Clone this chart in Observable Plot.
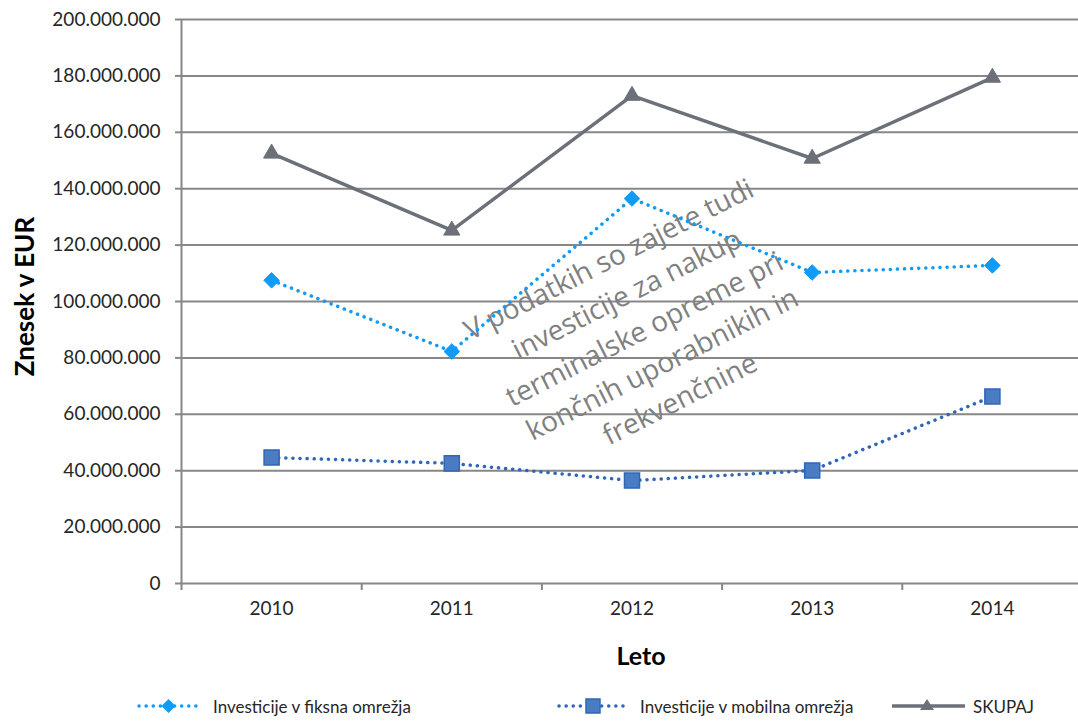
<!DOCTYPE html>
<html><head><meta charset="utf-8">
<script src="https://cdn.jsdelivr.net/npm/d3@7"></script>
<script src="https://cdn.jsdelivr.net/npm/@observablehq/plot@0.6"></script>
<style>
body{margin:0;background:#fff;overflow:hidden;}
#wrap{position:relative;width:1078px;height:722px;}
#legend{position:absolute;left:0;top:690px;width:1078px;height:32px;font-family:Lato,sans-serif;font-size:17px;color:#262626;}
.item{position:absolute;top:0;height:32px;display:flex;align-items:center;white-space:nowrap;}
</style></head><body>
<div id="wrap"><div id="chart"></div><div id="legend"></div></div>
<script>
const years = [2010, 2011, 2012, 2013, 2014];
const fiksna = [107.5e6, 82.3e6, 136.5e6, 110.3e6, 112.8e6];
const mobilna = [44.7e6, 42.6e6, 36.5e6, 40.1e6, 66.3e6];
const skupaj = [152.5e6, 125.2e6, 173.0e6, 150.7e6, 179.4e6];
const seriesNames = ["Investicije v fiksna omrežja", "Investicije v mobilna omrežja", "SKUPAJ"];
const yTicks = [0, 20e6, 40e6, 60e6, 80e6, 100e6, 120e6, 140e6, 160e6, 180e6, 200e6];
const xBounds = [2009.5, 2010.5, 2011.5, 2012.5, 2013.5, 2014.5];
const watermark = ["V podatkih so zajete tudi", "investicije za nakup", "terminalske opreme pri", "končnih uporabnikih in", "frekvenčnine"];

const colFix = "#0f9bf7", colMob = "#2f67b8", colMobFill = "#4a7cc4", colSum = "#6c7079", colGrid = "#878787";
const fmt = d3.formatLocale({thousands: ".", grouping: [3], decimal: ","}).format(",");
const rows = v => years.map((y, i) => ({year: y, value: v[i]}));
const dF = rows(fiksna), dM = rows(mobilna), dS = rows(skupaj);

const plot = Plot.plot({
  width: 1078, height: 690,
  marginLeft: 181, marginRight: 0, marginTop: 19, marginBottom: 107,
  style: {fontFamily: "Lato, sans-serif", fontSize: "19px", color: "#262626", background: "#fff"},
  x: {type: "linear", domain: [2009.5, 2014.5], range: [181, 1082]},
  y: {domain: [0, 200e6]},
  marks: [
    Plot.gridY(yTicks, {stroke: colGrid, strokeOpacity: 1, strokeWidth: 2}),
    Plot.ruleX([2009.5], {stroke: colGrid, strokeWidth: 2}),
    Plot.axisY({ticks: yTicks, tickSize: 6, tickPadding: 15, tickFormat: fmt, stroke: colGrid, strokeWidth: 2, strokeOpacity: 1, label: null, fill: "#262626"}),
    Plot.axisX({ticks: xBounds, tickSize: 7, tickFormat: () => "", stroke: colGrid, strokeWidth: 2, strokeOpacity: 1, label: null}),
    Plot.axisX({ticks: years, tickSize: 0, tickPadding: 18, tickFormat: d => String(d), label: null, fill: "#262626"}),
    Plot.text(["Znesek v EUR"], {frameAnchor: "left", textAnchor: "middle", dx: -156, dy: -5, rotate: -90, fontWeight: "bold", fontSize: 26, fill: "#000"}),
    Plot.text(["Leto"], {frameAnchor: "bottom", lineAnchor: "bottom", dx: 11, dy: 81, fontWeight: "bold", fontSize: 25, fill: "#000"}),
    Plot.text([watermark.join("\n")], {frameAnchor: "middle", dx: 13, dy: 25, rotate: -27, lineHeight: 1.4, fontSize: 28, fontFamily: "Open Sans", fill: "#808080"}),
    Plot.line(dS, {x: "year", y: "value", stroke: colSum, strokeWidth: 3.5}),
    Plot.dot(dS, {x: "year", y: "value", symbol: "triangle", r: 6, fill: colSum, stroke: colSum, strokeWidth: 1}),
    Plot.line(dF, {x: "year", y: "value", stroke: colFix, strokeWidth: 3.5, strokeDasharray: "0.1 7", strokeLinecap: "round"}),
    Plot.dot(dF, {x: "year", y: "value", symbol: "diamond2", r: 7, fill: colFix, stroke: colFix, strokeWidth: 1}),
    Plot.line(dM, {x: "year", y: "value", stroke: colMob, strokeWidth: 3.5, strokeDasharray: "0.1 7", strokeLinecap: "round"}),
    Plot.dot(dM, {x: "year", y: "value", symbol: "square", r: 8.5, fill: colMobFill, stroke: colMob, strokeWidth: 1.5})
  ]
});
document.getElementById("chart").appendChild(plot);

// legend
const leg = document.getElementById("legend");
const legItems = [
  {name: seriesNames[0], left: 137, w: 63, gap: 13, html: `<line x1="2" y1="16" x2="61" y2="16" stroke="${colFix}" stroke-width="3.5" stroke-dasharray="0.1 7" stroke-linecap="round"/><path d="M31.5 9 L38.5 16 L31.5 23 L24.5 16 Z" fill="${colFix}"/>`},
  {name: seriesNames[1], left: 557, w: 71, gap: 12, html: `<line x1="2" y1="16" x2="69" y2="16" stroke="${colMob}" stroke-width="3.5" stroke-dasharray="0.1 7" stroke-linecap="round"/><rect x="29" y="9" width="14" height="14" fill="${colMobFill}" stroke="${colMob}" stroke-width="1.5"/>`},
  {name: seriesNames[2], left: 892, w: 73, gap: 8, html: `<line x1="0" y1="16" x2="73" y2="16" stroke="${colSum}" stroke-width="3.5"/><path d="M35 9 L42 20 L28 20 Z" fill="${colSum}"/>`}
];
for (const it of legItems) {
  const d = document.createElement("div");
  d.className = "item";
  d.style.left = it.left + "px";
  d.innerHTML = `<svg width="${it.w}" height="32" style="margin-right:${it.gap}px">${it.html}</svg><span>${it.name}</span>`;
  leg.appendChild(d);
}
</script>
</body></html>
